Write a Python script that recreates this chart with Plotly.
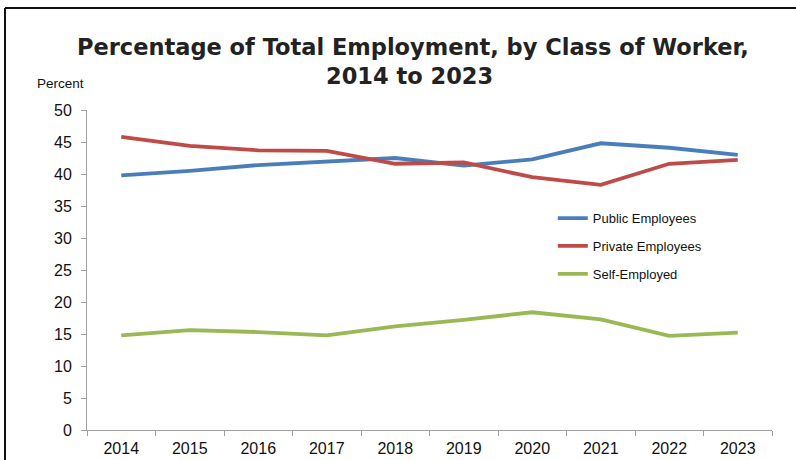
import plotly.graph_objects as go

years = ["2014", "2015", "2016", "2017", "2018", "2019", "2020", "2021", "2022", "2023"]
public_employees = [39.8, 40.5, 41.4, 41.9, 42.5, 41.3, 42.3, 44.8, 44.1, 43.0]
private_employees = [45.8, 44.4, 43.7, 43.6, 41.6, 41.8, 39.5, 38.3, 41.6, 42.2]
self_employed = [14.8, 15.6, 15.3, 14.8, 16.2, 17.2, 18.4, 17.3, 14.7, 15.2]

title_line1 = "Percentage of Total Employment, by Class of Worker,"
title_line2 = "2014 to 2023"

series = [
    ("Public Employees", public_employees, "#4a7ebb"),
    ("Private Employees", private_employees, "#be4b48"),
    ("Self-Employed", self_employed, "#98b954"),
]

fig = go.Figure()
for name, vals, color in series:
    fig.add_trace(go.Scatter(
        x=years, y=vals, mode="lines", name=name, legendgroup=name,
        line=dict(color=color, width=3.8),
    ))

title_font = dict(family="DejaVu Sans", size=22.5, color="#222222", weight=700)

fig.update_layout(
    width=796, height=460,
    margin=dict(l=87, r=24, t=110, b=30, autoexpand=False),
    paper_bgcolor="white", plot_bgcolor="white",
    font=dict(family="Liberation Sans, Arial, sans-serif", color="#111111"),
    showlegend=True,
    legend=dict(
        x=0.68, y=0.709, xanchor="left", yanchor="top",
        font=dict(size=13, color="#111111"),
        itemwidth=30, tracegroupgap=8, bgcolor="rgba(0,0,0,0)",
    ),
    xaxis=dict(
        type="category", range=[-0.5, 9.5],
        showline=True, linecolor="#a0a0a0", linewidth=1,
        ticks="outside", tickson="boundaries", ticklen=5, tickcolor="#a0a0a0",
        showgrid=False, zeroline=False, ticklabelstandoff=4,
        tickfont=dict(size=16), fixedrange=True,
    ),
    yaxis=dict(
        range=[0, 50], dtick=5, tick0=0,
        showline=True, linecolor="#a0a0a0", linewidth=1,
        ticks="outside", ticklen=5, tickcolor="#a0a0a0",
        showgrid=False, zeroline=False, ticklabelstandoff=6,
        tickfont=dict(size=16),
    ),
    annotations=[
        dict(text=title_line1, xref="paper", yref="paper",
             x=(413 - 87) / 685, y=(430 - 47) / 320, xanchor="center", yanchor="middle",
             showarrow=False, font=title_font),
        dict(text=title_line2, xref="paper", yref="paper",
             x=(409 - 87) / 685, y=(430 - 76) / 320, xanchor="center", yanchor="middle",
             showarrow=False, font=title_font),
        dict(text="Percent", xref="paper", yref="paper",
             x=(86 - 87) / 685, y=(430 - 84) / 320, xanchor="right", yanchor="middle",
             showarrow=False, font=dict(size=13.5, color="#111111")),
    ],
    shapes=[
        dict(type="line", xref="paper", yref="paper", x0=(5 - 87) / 685, x1=1.05,
             y0=(430 - 8) / 320, y1=(430 - 8) / 320,
             line=dict(color="#111111", width=2)),
        dict(type="line", xref="paper", yref="paper", x0=(5 - 87) / 685, x1=(5 - 87) / 685,
             y0=(430 - 8) / 320, y1=-0.2,
             line=dict(color="#111111", width=2)),
    ],
)

fig.write_html("out.html", config={"displayModeBar": False},
               post_script="document.body.style.margin='0';document.body.style.overflow='hidden';")
